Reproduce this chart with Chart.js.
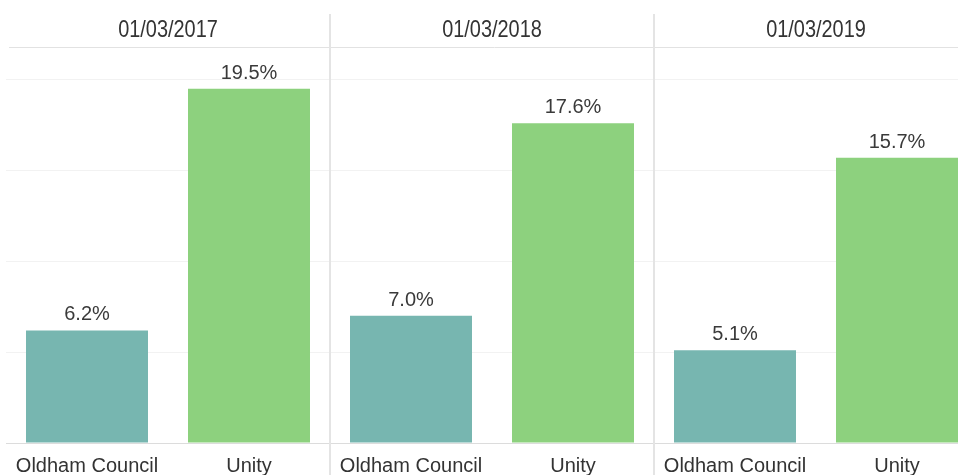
<!DOCTYPE html>
<html>
<head>
<meta charset="utf-8">
<script src="https://cdn.jsdelivr.net/npm/chart.js@4"></script>
<style>
html,body{margin:0;padding:0;background:#fff;overflow:hidden;width:958px;height:475px;}
canvas{display:block;}
</style>
</head>
<body>
<canvas id="c" width="980" height="490"></canvas>
<script>
// ---- data ----
const groups = ['01/03/2017', '01/03/2018', '01/03/2019'];
const seriesNames = ['Oldham Council', 'Unity'];
const oldhamValues = [6.2, 7.0, 5.1];
const unityValues = [19.5, 17.6, 15.7];
const yTicks = [0, 5, 10, 15, 20];
const yMax = 21.8;

const seriesColors = ['#77b6b0', '#8dd17e'];

// flatten into 6 categories
const labels = [];
const values = [];
const colors = [];
groups.forEach((g, i) => {
  labels.push(seriesNames[0]); values.push(oldhamValues[i]); colors.push(seriesColors[0]);
  labels.push(seriesNames[1]); values.push(unityValues[i]); colors.push(seriesColors[1]);
});

const tickFont = {family: '"Liberation Sans", Arial', size: 20};

const overlay = {
  id: 'overlay',
  afterDatasetsDraw(chart) {
    const ctx = chart.ctx;
    const xs = chart.scales.x;
    const area = chart.chartArea;
    ctx.save();
    // header line
    ctx.strokeStyle = '#e2e2e2';
    ctx.lineWidth = 1;
    ctx.beginPath();
    ctx.moveTo(9, Math.round(area.top) + 0.5);
    ctx.lineTo(chart.width, Math.round(area.top) + 0.5);
    ctx.stroke();
    // separators
    ctx.strokeStyle = '#e4e4e4';
    ctx.lineWidth = 2;
    for (let g = 1; g < groups.length; g++) {
      const x = (xs.getPixelForValue(2 * g - 1) + xs.getPixelForValue(2 * g)) / 2;
      ctx.beginPath();
      ctx.moveTo(x, 14);
      ctx.lineTo(x, chart.height);
      ctx.stroke();
    }
    // group headers (condensed look)
    ctx.fillStyle = '#333333';
    ctx.textAlign = 'center';
    ctx.textBaseline = 'alphabetic';
    groups.forEach((g, i) => {
      const cx = (xs.getPixelForValue(2 * i) + xs.getPixelForValue(2 * i + 1)) / 2;
      ctx.save();
      ctx.translate(cx, 37);
      ctx.scale(0.83, 1);
      ctx.font = '24px "Liberation Sans", Arial';
      ctx.fillText(g, 0, 0);
      ctx.restore();
    });
    // data labels
    ctx.fillStyle = '#3a3a3a';
    ctx.font = '20px "Liberation Sans", Arial';
    const meta = chart.getDatasetMeta(0);
    meta.data.forEach((bar, i) => {
      ctx.fillText(values[i].toFixed(1) + '%', bar.x, bar.y - 10);
    });
    ctx.restore();
  }
};

new Chart(document.getElementById('c'), {
  type: 'bar',
  data: {
    labels: labels,
    datasets: [{
      data: values,
      backgroundColor: colors,
      borderWidth: 0,
      barPercentage: 0.753,
      categoryPercentage: 1.0
    }]
  },
  options: {
    responsive: false,
    animation: false,
    devicePixelRatio: 1,
    layout: {padding: {left: 6, right: 2, top: 47, bottom: 10}},
    plugins: {legend: {display: false}, tooltip: {enabled: false}},
    scales: {
      x: {
        grid: {display: false, drawTicks: false},
        border: {display: false},
        ticks: {color: '#333333', font: tickFont, padding: 11, maxRotation: 0, autoSkip: false},
        afterFit: (s) => { s.height = 37; }
      },
      y: {
        min: 0,
        max: yMax,
        grid: {
          drawTicks: false,
          color: (c) => c.tick && c.tick.value === 0 ? '#dcdcdc' : '#f2f2f2',
          lineWidth: 1
        },
        border: {display: false},
        ticks: {display: false},
        afterBuildTicks: (scale) => { scale.ticks = yTicks.map(v => ({value: v})); }
      }
    }
  },
  plugins: [overlay]
});
</script>
</body>
</html>
